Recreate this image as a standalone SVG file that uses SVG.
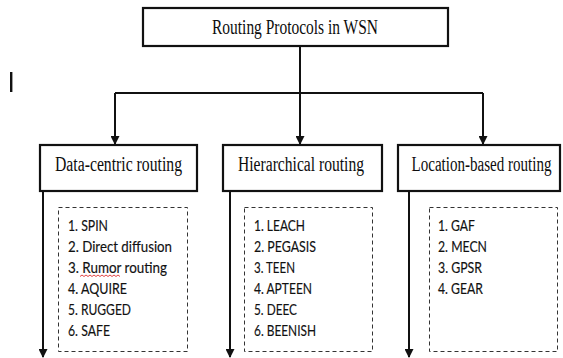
<svg xmlns="http://www.w3.org/2000/svg" width="563" height="358" viewBox="0 0 563 358">
  <style>
    .box { fill: #ffffff; stroke: #111111; stroke-width: 2.2; }
    .list { fill: none; stroke: #333333; stroke-width: 1; stroke-dasharray: 4 3; }
    .head { font-family: "Liberation Serif", "Times New Roman", serif; font-size: 20px; fill: #0d0d0d; }
    .item { font-family: "Lato", "Liberation Sans", Arial, sans-serif; font-size: 15px; fill: #111111; stroke: #111111; stroke-width: 0.15; }
    .wire { fill: none; stroke: #111111; stroke-width: 2; }
  </style>
  <defs>
    <marker id="head" markerWidth="9" markerHeight="9" refX="8" refY="4.5" orient="auto" markerUnits="userSpaceOnUse">
      <path d="M0,0 L9,4.5 L0,9 Z" fill="#111111"/>
    </marker>
  </defs>

  <rect width="563" height="358" fill="#ffffff"/>

  <!-- stray cursor mark at left -->
  <rect x="10" y="72" width="2.4" height="20" fill="#111111"/>

  <!-- connectors -->
  <g id="connectors">
    <path class="wire" d="M300,46 V93"/>
    <path class="wire" d="M115,93 H483"/>
    <path class="wire" d="M115,93 V144" marker-end="url(#head)"/>
    <path class="wire" d="M300,93 V144" marker-end="url(#head)"/>
    <path class="wire" d="M483,93 V144" marker-end="url(#head)"/>
    <path class="wire" d="M43,191 V357" marker-end="url(#head)"/>
    <path class="wire" d="M230,191 V357" marker-end="url(#head)"/>
    <path class="wire" d="M409,191 V357" marker-end="url(#head)"/>
  </g>

  <g id="root">
    <rect class="box" x="143" y="8" width="305" height="38"/>
    <text class="head" x="212" y="33.5" textLength="166" lengthAdjust="spacingAndGlyphs">Routing Protocols in WSN</text>
  </g>

  <g id="data-centric">
    <rect class="box" x="40" y="145" width="157" height="46"/>
    <text class="head" x="55" y="171" textLength="127" lengthAdjust="spacingAndGlyphs">Data-centric routing</text>
  </g>

  <g id="hierarchical">
    <rect class="box" x="223" y="145" width="159" height="46"/>
    <text class="head" x="238" y="171" textLength="126" lengthAdjust="spacingAndGlyphs">Hierarchical routing</text>
  </g>

  <g id="location-based">
    <rect class="box" x="398" y="145" width="162" height="46"/>
    <text class="head" x="411.5" y="171" textLength="140" lengthAdjust="spacingAndGlyphs">Location-based routing</text>
  </g>

  <g id="data-centric-list">
    <rect class="list" x="58.5" y="207.5" width="129" height="144"/>
    <text class="item" x="68" y="231" textLength="40" lengthAdjust="spacingAndGlyphs">1. SPIN</text>
    <text class="item" x="68" y="252" textLength="104" lengthAdjust="spacingAndGlyphs">2. Direct diffusion</text>
    <text class="item" x="68" y="273" textLength="99" lengthAdjust="spacingAndGlyphs">3. Rumor routing</text>
    <path d="M80,276.5 l2,-1.5 l2,1.5 l2,-1.5 l2,1.5 l2,-1.5 l2,1.5 l2,-1.5 l2,1.5 l2,-1.5 l2,1.5 l2,-1.5 l2,1.5 l2,-1.5 l2,1.5 l2,-1.5 l2,1.5 l2,-1.5 l2,1.5 l2,-1.5 l2,1.5" fill="none" stroke="#e03030" stroke-width="0.9"/>
    <text class="item" x="68" y="294" textLength="59" lengthAdjust="spacingAndGlyphs">4. AQUIRE</text>
    <text class="item" x="68" y="315" textLength="63" lengthAdjust="spacingAndGlyphs">5. RUGGED</text>
    <text class="item" x="68" y="336" textLength="42" lengthAdjust="spacingAndGlyphs">6. SAFE</text>
  </g>

  <g id="hierarchical-list">
    <rect class="list" x="244.5" y="207.5" width="128" height="144"/>
    <text class="item" x="254" y="231" textLength="51" lengthAdjust="spacingAndGlyphs">1. LEACH</text>
    <text class="item" x="254" y="252" textLength="62" lengthAdjust="spacingAndGlyphs">2. PEGASIS</text>
    <text class="item" x="254" y="273" textLength="41" lengthAdjust="spacingAndGlyphs">3. TEEN</text>
    <text class="item" x="254" y="294" textLength="58" lengthAdjust="spacingAndGlyphs">4. APTEEN</text>
    <text class="item" x="254" y="315" textLength="43" lengthAdjust="spacingAndGlyphs">5. DEEC</text>
    <text class="item" x="254" y="336" textLength="62" lengthAdjust="spacingAndGlyphs">6. BEENISH</text>
  </g>

  <g id="location-based-list">
    <rect class="list" x="429.5" y="207.5" width="128" height="144"/>
    <text class="item" x="438" y="231" textLength="37" lengthAdjust="spacingAndGlyphs">1. GAF</text>
    <text class="item" x="438" y="252" textLength="49" lengthAdjust="spacingAndGlyphs">2. MECN</text>
    <text class="item" x="438" y="273" textLength="44" lengthAdjust="spacingAndGlyphs">3. GPSR</text>
    <text class="item" x="438" y="294" textLength="45" lengthAdjust="spacingAndGlyphs">4. GEAR</text>
  </g>
</svg>
